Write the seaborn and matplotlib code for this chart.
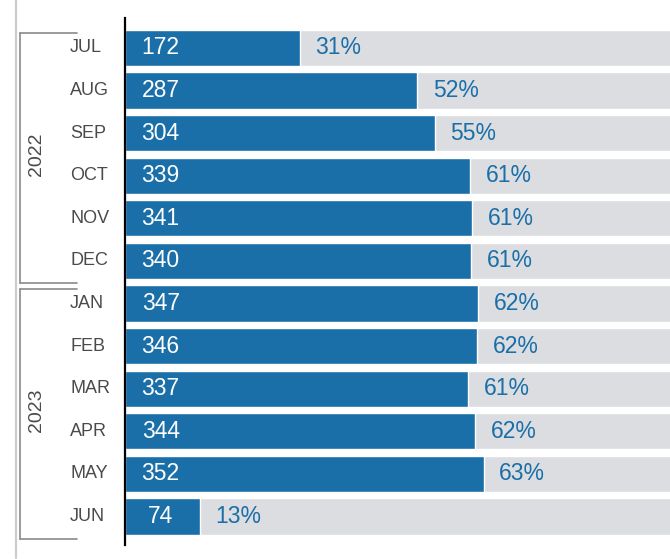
import matplotlib
matplotlib.use("Agg")
import matplotlib.pyplot as plt
import matplotlib.transforms as mtransforms
from matplotlib.lines import Line2D
import seaborn as sns

sns.set_style("white")
plt.rcParams['font.family'] = ['Liberation Sans', 'DejaVu Sans']

# Data
months = ['JUL', 'AUG', 'SEP', 'OCT', 'NOV', 'DEC',
          'JAN', 'FEB', 'MAR', 'APR', 'MAY', 'JUN']
values = [172, 287, 304, 339, 341, 340, 347, 346, 337, 344, 352, 74]
percents = [31, 52, 55, 61, 61, 61, 62, 62, 61, 62, 63, 13]
years = ['2022', '2023']
year_months = [6, 6]
total = 556

BLUE = '#1a6fa8'
GREY = '#dcdde0'

fig = plt.figure(figsize=(6.7, 5.59), dpi=100)
ax = fig.add_axes([125 / 670, 1 - 545 / 559, 545 / 670, (545 - 18) / 559])

# background (total) bars, then actual values
sns.barplot(x=[total] * len(months), y=months, orient='h', color=GREY,
            width=0.85, saturation=1, ax=ax)
sns.barplot(x=values, y=months, orient='h', color=BLUE,
            width=0.85, saturation=1, ax=ax)

ax.set_xlim(0, 535)
ax.set_ylim(11.67, -0.70)
ax.set_xlabel('')
ax.set_ylabel('')
ax.tick_params(left=False, bottom=False, labelleft=False, labelbottom=False)
for s in ['top', 'right', 'bottom']:
    ax.spines[s].set_visible(False)
ax.spines['left'].set_color('black')
ax.spines['left'].set_linewidth(1.6)

for i, (v, p) in enumerate(zip(values, percents)):
    ax.text(35, i, str(v), color='white', fontsize=16.5, ha='center', va='center')
    ax.annotate(f'{p}%', xy=(v, i), xytext=(11, 0), textcoords='offset points',
                color=BLUE, fontsize=16.5, ha='left', va='center')

# month labels and year brackets on the left
trans = mtransforms.blended_transform_factory(fig.transFigure, ax.transData)
for i, m in enumerate(months):
    ax.text(70 / 670, i, m, transform=trans, fontsize=13, color='#4a4a4a',
            ha='left', va='center')

start = 0
for yr, n in zip(years, year_months):
    top, bot = start - 0.35, start + n - 1 + 0.52
    x0, x1 = 20 / 670, 77 / 670
    for xs, ys in [([x0, x1], [top, top]), ([x0, x0], [top, bot]), ([x0, x1], [bot, bot])]:
        ax.add_line(Line2D(xs, ys, transform=trans, color='#8a8a8a', lw=1.2,
                           clip_on=False))
    ax.text(36 / 670, start + (n - 1) / 2, yr, transform=trans, rotation=90,
            fontsize=14, color='#4a4a4a', ha='center', va='center')
    start += n

fig.add_artist(Line2D([16 / 670, 16 / 670], [1, 1 - 558 / 559],
                      transform=fig.transFigure, color='#cccccc', lw=1.6))

plt.savefig('out.png', dpi=100)
plt.close()
